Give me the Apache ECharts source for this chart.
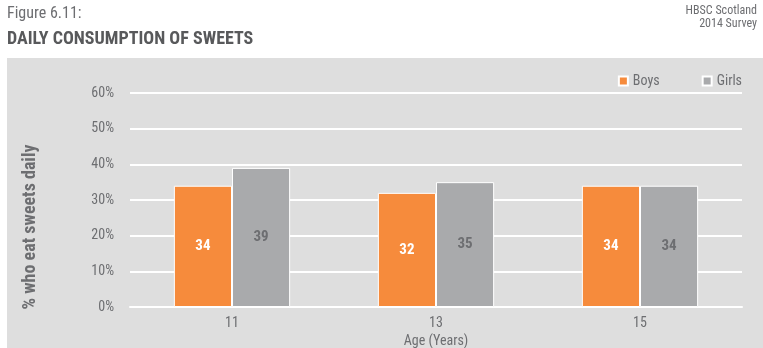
<!DOCTYPE html>
<html><head><meta charset="utf-8">
<script src="https://cdn.jsdelivr.net/npm/echarts@6/dist/echarts.min.js"></script>
<style>html,body{margin:0;padding:0;background:#fff}#c{width:763px;height:348px}</style>
</head><body><div id="c"></div>
<script>
const categories = ['11', '13', '15'];
const boys = [34, 32, 34];
const girls = [39, 35, 34];
const yTicks = [0, 10, 20, 30, 40, 50, 60];
const FONT = '"Liberation Sans Narrow","Roboto Condensed","Roboto",sans-serif';
const chart = echarts.init(document.getElementById('c'));
chart.setOption({
  animation: false,
  backgroundColor: '#ffffff',
  textStyle: { fontFamily: FONT },
  graphic: [
    { type: 'rect', left: 7, top: 58, shape: { width: 756, height: 290 }, style: { fill: '#dedede' }, z: -10 },
    { type: 'text', left: 7, top: 6, style: { text: 'Figure 6.11:', font: '16px ' + FONT, fill: '#6d6e71' } },
    { type: 'text', left: 7, top: 30, style: { text: 'DAILY CONSUMPTION OF SWEETS', font: 'bold 18px ' + FONT, fill: '#58595b' } },
    { type: 'text', right: 6, top: 5, style: { text: 'HBSC Scotland', font: '12px ' + FONT, fill: '#6d6e71' } },
    { type: 'text', right: 6, top: 18, style: { text: '2014 Survey', font: '12px ' + FONT, fill: '#6d6e71' } },
    { type: 'text', x: 30, y: 227, rotation: Math.PI / 2,
      style: { text: '% who eat sweets daily', font: 'bold 18px ' + FONT, fill: '#6d6e71', align: 'center', verticalAlign: 'middle' } }
  ],
  legend: {
    right: 16, top: 69, itemWidth: 9, itemHeight: 9, itemGap: 42,
    icon: 'rect',
    textStyle: { color: '#6d6e71', fontSize: 14, fontFamily: FONT },
    data: ['Boys', 'Girls']
  },
  grid: { left: 130, right: 21, top: 93, bottom: 41, outerBoundsMode: 'none' },
  xAxis: {
    type: 'category', data: categories,
    name: 'Age (Years)', nameLocation: 'middle', nameGap: 25,
    nameTextStyle: { color: '#6d6e71', fontSize: 14, fontFamily: FONT },
    axisLine: { show: true, lineStyle: { color: '#ffffff', width: 2 } },
    axisTick: { show: false },
    axisLabel: { color: '#6d6e71', fontSize: 14, margin: 9, fontFamily: FONT }
  },
  yAxis: {
    type: 'value', min: 0, max: 60, interval: 10,
    axisLine: { show: false }, axisTick: { show: false },
    axisLabel: { color: '#6d6e71', fontSize: 14, margin: 16, formatter: v => yTicks.includes(v) ? v + '%' : '', fontFamily: FONT },
    splitLine: { lineStyle: { color: '#ffffff', width: 2 } }
  },
  series: [
    { name: 'Boys', type: 'bar', data: boys, barGap: '0%', barCategoryGap: '43%',
      itemStyle: { color: '#f68b3c', borderColor: '#ffffff', borderWidth: 1 },
      label: { show: true, position: 'inside', color: '#ffffff', fontWeight: 'bold', fontSize: 15, fontFamily: FONT } },
    { name: 'Girls', type: 'bar', data: girls,
      itemStyle: { color: '#a9aaac', borderColor: '#ffffff', borderWidth: 1 },
      label: { show: true, position: 'inside', color: '#6d6e71', fontWeight: 'bold', fontSize: 15, fontFamily: FONT } }
  ]
});
</script></body></html>
